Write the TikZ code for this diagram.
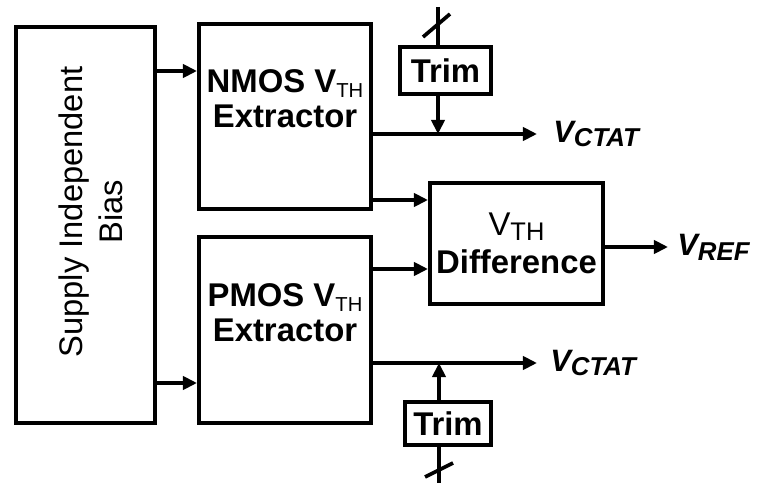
\documentclass[tikz,border=0pt]{standalone}
\usepackage{fontspec}
\setmainfont{Liberation Sans}
\usetikzlibrary{arrows.meta, positioning, calc}
\newcommand{\thsub}[1]{\raisebox{-2.8pt}{\fontsize{11.5}{12}\selectfont\mdseries #1}}
\newcommand{\sigsub}[1]{\raisebox{-2.8pt}{\fontsize{14.7}{15}\selectfont #1}}

\begin{document}
\begin{tikzpicture}[x=0.02cm, y=-0.02cm,
        box/.style={rectangle, draw, line width=2.3pt, inner sep=0pt, align=center, font=\fontsize{18.7}{20}\selectfont\bfseries},
        lbl/.style={align=center, inner sep=0pt, font=\fontsize{18.7}{20}\selectfont\bfseries},
        sig/.style={anchor=west, inner sep=0pt, font=\fontsize{17.6}{18}\selectfont\bfseries\itshape},
        arr/.style={-{Triangle[length=8pt, width=7.5pt]}, line width=2.1pt},
        wire/.style={line width=2.1pt},
    ]
        \useasboundingbox (0,0) rectangle (758,483);

        % Blocks
        \node[box, minimum width=2.78cm, minimum height=7.92cm] (bias) at (85.5,225) {};
        \node[box, minimum width=3.44cm, minimum height=3.70cm] (nmos) at (285,116.5) {};
        \node[box, minimum width=3.44cm, minimum height=3.72cm] (pmos) at (285,330) {};
        \node[box, minimum width=3.46cm, minimum height=2.42cm] (diff) at (516.5,243.5)
            {\mdseries V\thsub{\fontsize{14.5}{15}\selectfont TH}\\[2pt]Difference};
        \node[box, minimum width=1.82cm, minimum height=0.94cm] (trimn) at (445.5,70.5) {Trim};
        \node[box, minimum width=1.72cm, minimum height=0.86cm] (trimp) at (448,423.5) {Trim};

        % Block texts
        \node[lbl, rotate=90, font=\fontsize{18.6}{23}\selectfont] (biastxt) at (91,212) {Supply Independent\\Bias};
        \node[lbl] (nmostxt) at (285,99) {NMOS V\thsub{TH}\\Extractor};
        \node[lbl] (pmostxt) at (285,313) {PMOS V\thsub{TH}\\Extractor};

        % Bias currents
        \foreach \n/\yy in {nmos/71, pmos/383} {
            \coordinate (in-\n) at (0,\yy);
            \draw[arr] (bias.east |- in-\n) -- (\n.west |- in-\n);
        }

        % V_TH into difference
        \foreach \n/\yy in {nmos/200, pmos/269} {
            \coordinate (vth-\n) at (0,\yy);
            \draw[arr] (\n.east |- vth-\n) -- (diff.west |- vth-\n);
        }

        % CTAT outputs
        \coordinate (ctatn) at (537,134);
        \coordinate (ctatp) at (537,363);
        \draw[arr] (nmos.east |- ctatn) -- (ctatn);
        \draw[arr] (pmos.east |- ctatp) -- (ctatp);
        \node[sig, right=0.32cm of ctatn] (vctatn) {V\sigsub{CTAT}};
        \node[sig, right=0.26cm of ctatp] (vctatp) {V\sigsub{CTAT}};

        % Reference output
        \coordinate (ref) at (668,247);
        \draw[arr] (diff.east |- ref) -- (ref);
        \node[sig, right=0.18cm of ref] (vref) {V\sigsub{REF}};

        % Trim inputs
        \coordinate (tapn) at (438,134);
        \coordinate (tapp) at (439,363);
        \coordinate (busn) at (438,7);
        \coordinate (busp) at (439,483);
        \draw[arr] (trimn.south -| tapn) -- (tapn);
        \draw[arr] (trimp.north -| tapp) -- (tapp);
        \draw[wire] (busn) -- (trimn.north -| busn);
        \draw[wire] (trimp.south -| busp) -- (busp);
        \draw[wire] ($(busn)+(-15,30)$) -- ++(27,-23);
        \draw[wire] ($(busp)+(-14,-6)$) -- ++(28,-14);
    \end{tikzpicture}
\end{document}
